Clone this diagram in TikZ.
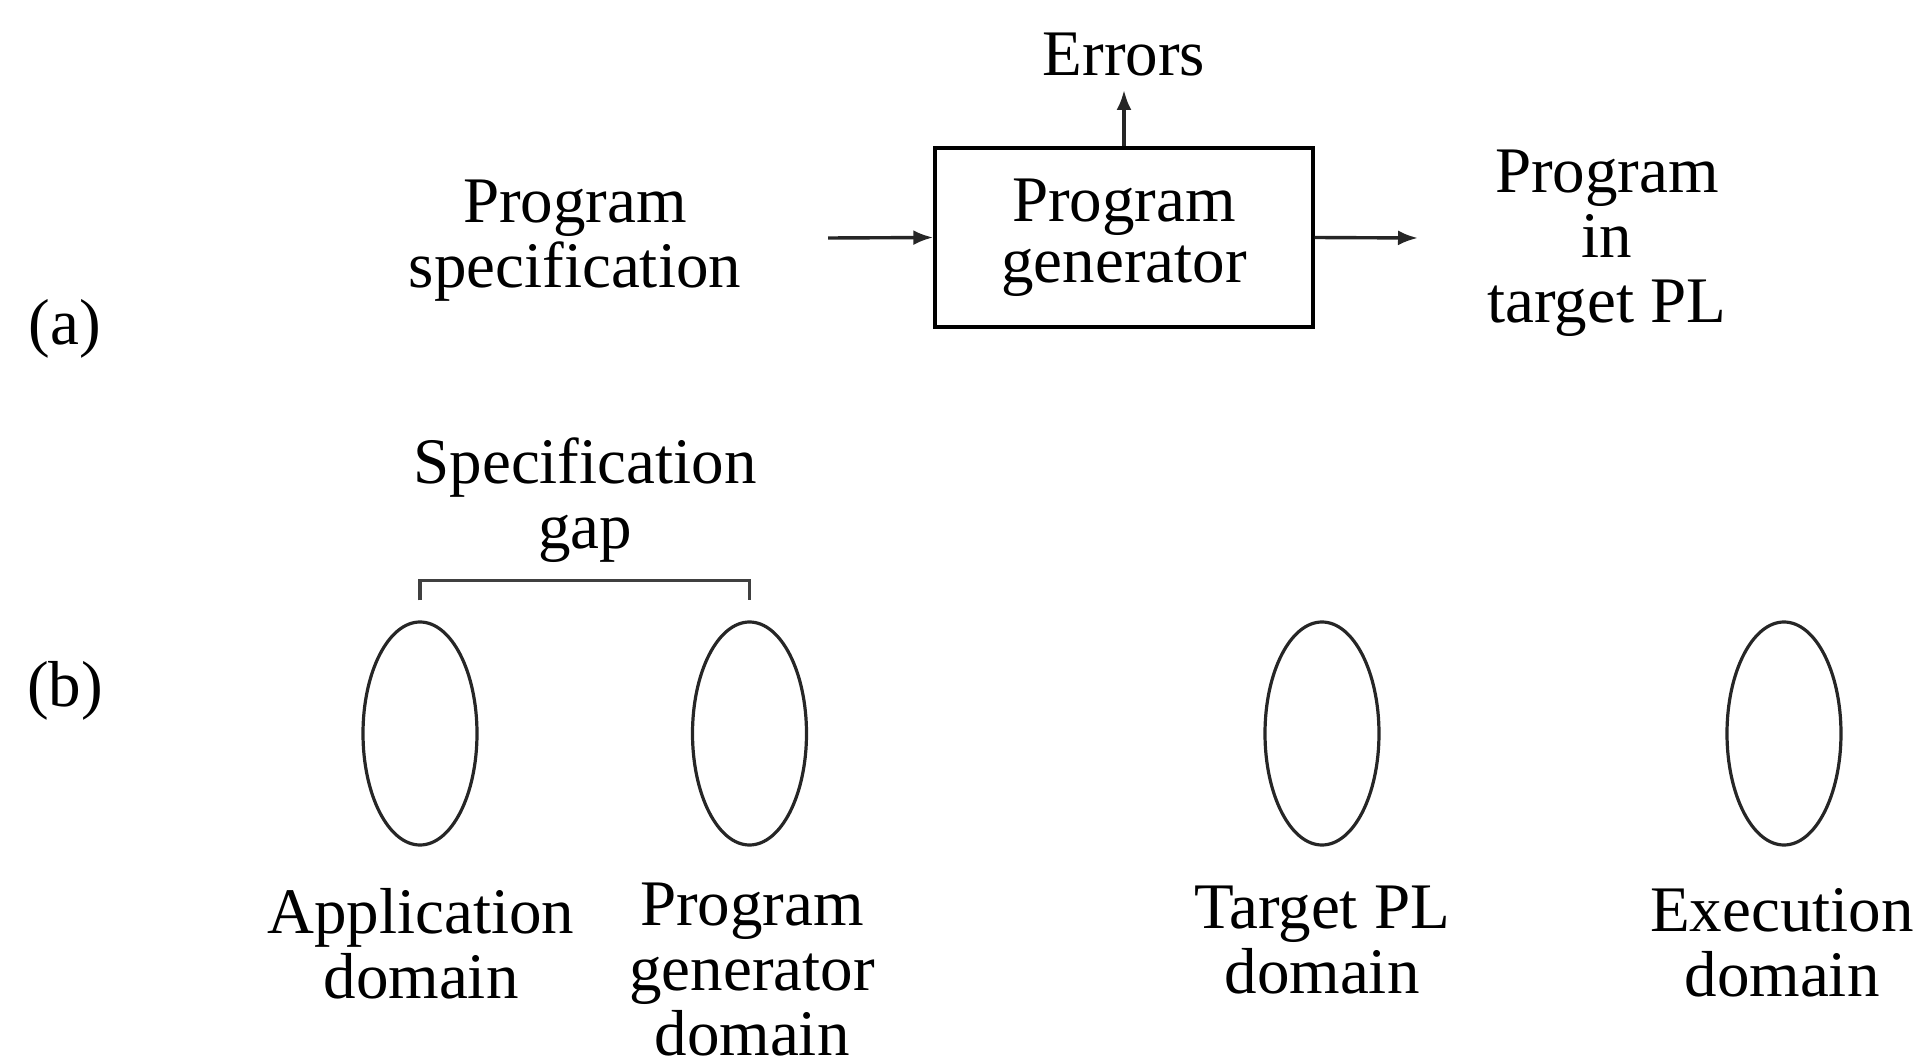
\documentclass[tikz,border=0pt]{standalone}
\usepackage{fontspec}
\setmainfont{Liberation Serif}
\usetikzlibrary{shapes.geometric,arrows.meta}
\begin{document}
\begin{tikzpicture}[x=0.5pt,y=-0.5pt,
  lbl/.style={align=center,inner sep=0pt,font=\fontsize{32.5pt}{32.5pt}\selectfont},
  genbox/.style={draw,line width=1.7pt,minimum width=189pt,minimum height=89.5pt,
    inner sep=0pt,align=center,font=\fontsize{32.5pt}{30.5pt}\selectfont},
  domainoval/.style={draw,ellipse,line width=1.6pt,draw=black!85,minimum width=57pt,
    minimum height=111.5pt,inner sep=0pt},
  flow/.style={line width=1.7pt,draw=black!85,-{Latex[length=10pt,width=7.5pt]}},
  gapline/.style={line width=1.6pt,draw=black!75}]
\useasboundingbox (0,0) rectangle (1924,1064);

% (a) the program generator
\node[lbl,anchor=base] (la) at (65,345) {(a)};
\node[genbox] (gen) at (1124,237.5) {Program\\generator};
\node[lbl,anchor=base] (err) at (1124,76) {Errors};
\node[lbl,anchor=north] (spec) at (575,180) {Program\\specification};
\node[lbl,anchor=north] (out) at (1607,150) {Program\\in\\target PL};
\coordinate (inStart) at (828,238);
\coordinate (outEnd) at (1418,238);
\coordinate (errTip) at (1124,90);
\draw[flow] (inStart) -- (gen.west);
\draw[flow] (gen.east) -- (outEnd);
\draw[flow] (gen.north) -- (errTip);

% (b) the domains
\node[lbl,anchor=base] (lb) at (65,706) {(b)};
\node[domainoval] (app) at (420,733.5) {};
\node[domainoval] (pgd) at (749.5,733.5) {};
\node[domainoval] (tpl) at (1322,733.5) {};
\node[domainoval] (exe) at (1784,733.5) {};
\node[lbl,anchor=north] (appL) at (421,888) {Application\\domain};
\node[lbl,anchor=north] (pgdL) at (752,883) {Program\\generator\\domain};
\node[lbl,anchor=north] (tplL) at (1322,886) {Target PL\\domain};
\node[lbl,anchor=north] (exeL) at (1782,888) {Execution\\domain};

% specification gap bracket
\node[lbl,anchor=north] (gapL) at (585,437) {Specification\\gap};
\coordinate (gapA) at ([yshift=10pt]app.north);
\coordinate (gapB) at ([yshift=10pt]pgd.north);
\draw[gapline] (gapA) -- ++(0,-20) -| (gapB);
\end{tikzpicture}
\end{document}
